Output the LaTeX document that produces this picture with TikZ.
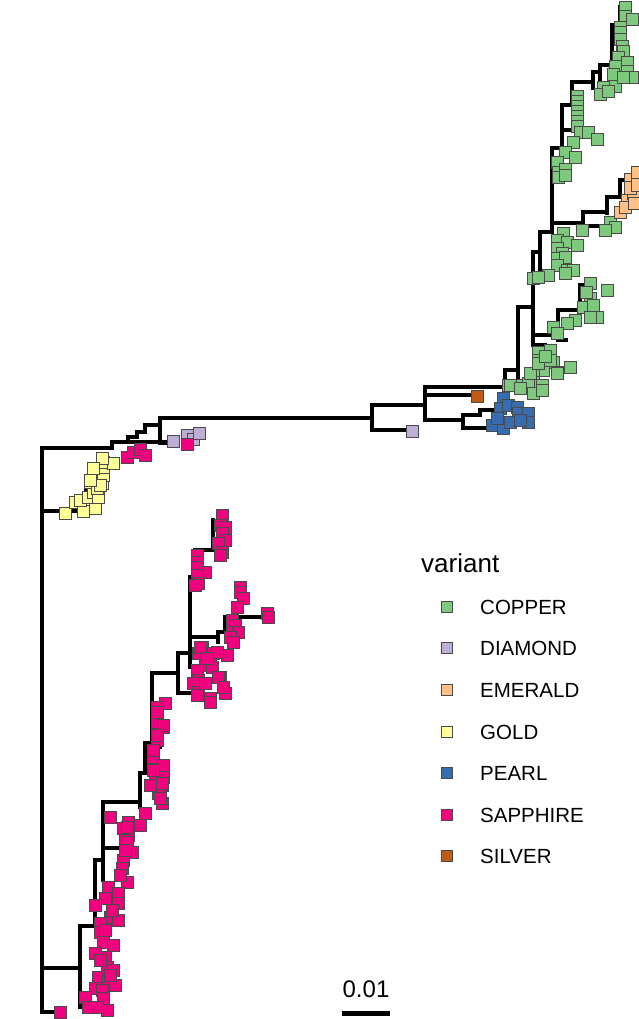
\documentclass[tikz,border=0pt]{standalone}
\usepackage{fontspec}
\setmainfont{Liberation Sans}
\definecolor{cCU}{HTML}{7FC97F}
\definecolor{cDI}{HTML}{BEAED4}
\definecolor{cEM}{HTML}{FDC086}
\definecolor{cGO}{HTML}{FFFF99}
\definecolor{cPE}{HTML}{386CB0}
\definecolor{cSA}{HTML}{F0027F}
\definecolor{cSI}{HTML}{BF5B17}
\definecolor{rim}{HTML}{4A4A4A}
\tikzset{
  br/.style={line width=4.4pt, line join=miter, line cap=rect, black},
  tip/.style={rectangle, draw=rim, line width=1pt, minimum size=12pt, inner sep=0pt},
  key/.style={rectangle, draw=rim, line width=1pt, minimum size=11.5pt, inner sep=0pt},
  lab/.style={anchor=west, font=\fontsize{20.5}{24}\selectfont, inner sep=0pt}
}
\begin{document}
\begin{tikzpicture}[x=1pt,y=-1pt]
\useasboundingbox (0,0) rectangle (638,1019);
% ---------------- root ----------------
\draw[br] (112,448) -- (42,448) -- (42,1012) -- (60,1012);
\draw[br] (42,511) -- (78,511);
\draw[br] (42,968) -- (80,968);
% gold ladder
\draw[br] (78,511) -- (78,502) -- (86,502) -- (86,488) -- (92,488) -- (92,472) -- (98,472) -- (98,460) -- (105,460);
\draw[br] (86,495) -- (95,495);
% upper ladder
\draw[br] (112,448) -- (112,442) -- (165,442);
\draw[br] (128,442) -- (128,437) -- (137,437) -- (137,432) -- (145,432) -- (145,425) -- (160,425);
\draw[br] (160,418) -- (160,443) -- (170,443);
\draw[br] (160,418) -- (372,418);
% deep split
\draw[br] (372,405) -- (372,430) -- (410,430);
\draw[br] (372,405) -- (425,405);
\draw[br] (425,387) -- (425,420) -- (463,420);
\draw[br] (425,395) -- (475,395);
\draw[br] (425,387) -- (505,387);
% pearl
\draw[br] (463,415) -- (463,428) -- (487,428);
\draw[br] (463,415) -- (480,415) -- (480,410) -- (495,410);
% copper lower
\draw[br] (505,387) -- (505,370) -- (518,370);
\draw[br] (505,387) -- (512,387);
\draw[br] (518,307) -- (518,385) -- (528,385);
\draw[br] (518,307) -- (533,307);
\draw[br] (533,252) -- (533,345) -- (545,345);
\draw[br] (533,335) -- (558,335);
\draw[br] (558,310) -- (558,340) -- (566,340);
\draw[br] (558,310) -- (580,310) -- (580,285) -- (590,285);
\draw[br] (533,252) -- (540,252);
\draw[br] (540,232) -- (540,280) -- (548,280);
\draw[br] (540,232) -- (552,232);
\draw[br] (552,148) -- (552,232);
% emerald branch
\draw[br] (552,223) -- (583,223) -- (583,212) -- (607,212);
\draw[br] (583,226) -- (600,226);
\draw[br] (607,197) -- (607,213);
\draw[br] (607,197) -- (620,197) -- (620,180) -- (628,180);
% copper top
\draw[br] (552,148) -- (562,148) -- (562,105) -- (572,105) -- (572,82) -- (593,82);
\draw[br] (593,72) -- (593,88);
\draw[br] (593,72) -- (600,72) -- (600,65) -- (612,65);
\draw[br] (600,65) -- (600,80);
\draw[br] (612,25) -- (612,70);
\draw[br] (612,25) -- (620,25) -- (620,7) -- (625,7);
\draw[br] (562,130) -- (575,130);
% sapphire clade
\draw[br] (80,926) -- (80,1007) -- (90,1007);
\draw[br] (80,926) -- (95,926) -- (95,860) -- (103,860);
\draw[br] (103,802) -- (103,880);
\draw[br] (103,848) -- (120,848);
\draw[br] (103,802) -- (140,802);
\draw[br] (140,773) -- (140,807);
\draw[br] (140,773) -- (145,773) -- (145,743) -- (152,743);
\draw[br] (152,673) -- (152,747) -- (160,747);
\draw[br] (152,673) -- (178,673);
\draw[br] (178,653) -- (178,693) -- (195,693);
\draw[br] (178,653) -- (190,653);
\draw[br] (190,577) -- (190,667);
\draw[br] (190,577) -- (195,577) -- (195,550) -- (213,550) -- (213,520);
\draw[br] (190,637) -- (218,637);
\draw[br] (218,632) -- (218,642);
\draw[br] (218,632) -- (225,632) -- (225,617) -- (262,617);
% ---------------- tips ----------------
\foreach [count=\i] \x/\y in {65/513,75/502,83/511,80/500,95/508,88/497,93/492,98/497,90/482,102/483,93/472,103/475,103/467,103/462,113/463,102/458,93/468,97/488,100/485,90/480}
  \node[tip, fill=cGO] (go\i) at (\x,\y) {};
\foreach [count=\i] \x/\y in {127/457,133/452,140/449,145/455,187/444}
  \node[tip, fill=cSA] (sa\i) at (\x,\y) {};
\foreach [count=\i] \x/\y in {173/441,187/435,193/439,199/433,412/431}
  \node[tip, fill=cDI] (di\i) at (\x,\y) {};
\node[tip, fill=cSA] (sa6) at (187,444) {};
\node[tip, fill=cSI] (si1) at (477,396) {};
\foreach [count=\i] \x/\y in {503/398,500/408,508/405,517/407,518/413,528/413,528/422,492/425,503/428,510/422,520/420,497/418}
  \node[tip, fill=cPE] (pe\i) at (\x,\y) {};
\foreach [count=\i] \x/\y in {
  625/8,625/17,632/20,620/28,620/33,620/40,622/47,623/52,618/58,627/63,615/67,627/72,613/75,632/78,615/87,623/78,603/88,600/95,608/92,
  577/97,577/102,577/107,577/112,577/117,577/122,577/127,580/133,588/133,597/140,573/143,565/153,575/158,557/163,558/173,565/170,
  558/178,565/176,582/230,563/233,557/240,567/242,577/245,557/248,562/253,557/258,565/257,557/265,567/270,573/270,565/273,548/275,533/278,538/277,
  610/222,615/227,605/230,
  590/283,607/290,590/298,583/307,597/317,575/320,590/317,586/292,593/305,
  553/327,567/323,557/333,550/350,538/352,538/360,553/362,570/367,557/372,543/370,533/375,533/382,508/385,520/385,542/385,528/383,
  510/385,520/388,533/393,542/390,530/373,538/363,550/360,557/373,545/356}
  \node[tip, fill=cCU] (cu\i) at (\x,\y) {};
\foreach [count=\i] \x/\y in {620/212,627/200,633/193,630/180,637/173,625/207,630/188,637/185,634/203}
  \node[tip, fill=cEM] (em\i) at (\x,\y) {};
\foreach [count=\i] \x/\y in {
  222/515,220/525,225/527,222/533,225/540,218/543,222/552,220/555,197/555,197/562,197/567,205/572,197/575,198/583,195/585,
  240/587,240/592,243/598,237/607,267/613,268/617,232/620,235/625,232/632,238/632,230/637,233/642,202/647,213/653,227/655,
  198/653,210/660,205/665,220/677,225/693,212/667,197/670,198/680,193/683,198/692,210/698,200/647,217/652,207/658,218/677,
  205/683,223/687,197/695,210/702,
  165/703,157/710,157/722,163/727,157/740,153/757,163/765,163/777,155/780,162/785,158/793,162/803,145/813,110/817,128/822,
  140/825,123/828,128/835,157/707,157/712,163/725,157/735,153/750,162/783,153/770,150/785,160/798,
  127/827,125/840,127/842,132/852,123/860,122/868,127/882,108/887,118/893,105/898,95/905,118/903,110/917,118/920,100/923,
  100/932,103/942,113/945,95/953,105/957,107/967,113/970,98/977,108/980,115/985,95/988,102/990,85/997,88/1007,103/998,
  107/1010,97/1007,125/850,120/875,112/910,105/930,100/960,110/975,60/1012}
  \node[tip, fill=cSA] (sb\i) at (\x,\y) {};
% ---------------- legend ----------------
\node[anchor=base west, font=\fontsize{26}{30}\selectfont, inner sep=0pt] (ltitle) at (421,572) {variant};
\foreach [count=\i] \c/\t/\y in {cCU/COPPER/607, cDI/DIAMOND/648, cEM/EMERALD/690, cGO/GOLD/732, cPE/PEARL/773, cSA/SAPPHIRE/815, cSI/SILVER/856}
{
  \node[key, fill=\c] (k\i) at (447,\y) {};
  \node[lab] (l\i) at (480,\y) {\t};
}
% ---------------- scale bar ----------------
\coordinate (s1) at (342,1013);
\coordinate (s2) at (390,1013);
\draw[line width=5pt] (s1) -- (s2);
\node[font=\fontsize{24}{28}\selectfont, anchor=base, inner sep=0pt] (slab) at (366,997) {0.01};
\end{tikzpicture}
\end{document}
